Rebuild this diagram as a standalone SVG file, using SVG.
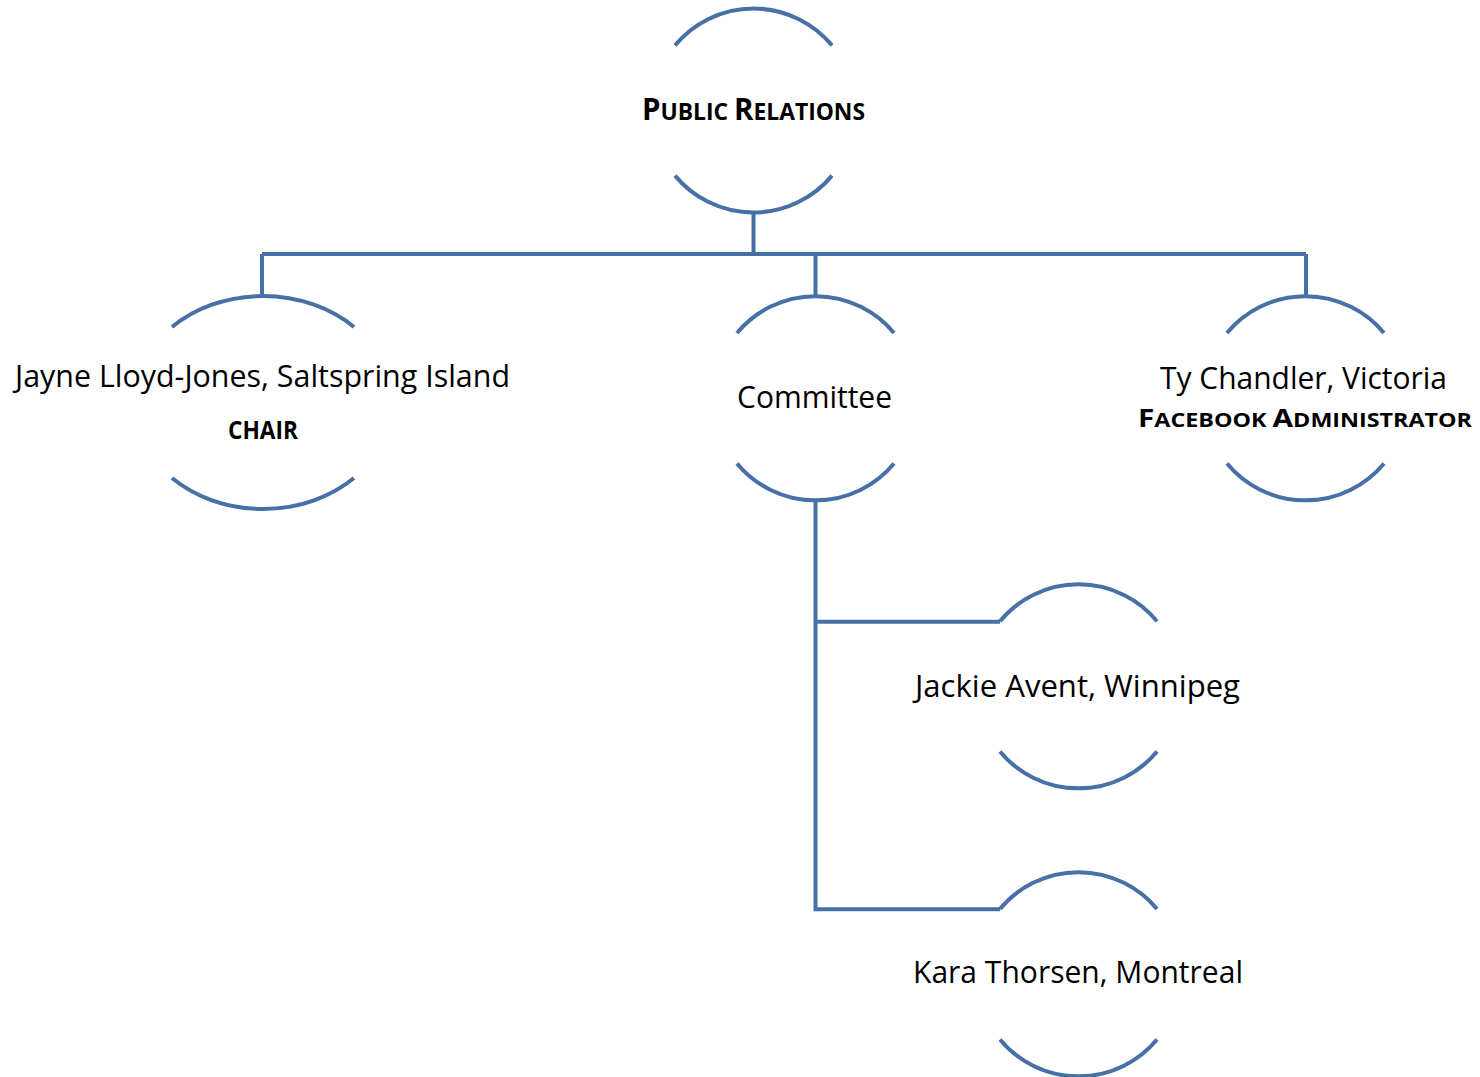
<svg xmlns="http://www.w3.org/2000/svg" width="1480" height="1077" viewBox="0 0 1480 1077">
<style>
.arc{fill:none;stroke:#4770a6;stroke-width:4;stroke-linecap:butt}
.ln{fill:none;stroke:#4770a6;stroke-width:4;stroke-linejoin:miter}
.t{font-family:"Open Sans","Liberation Sans",sans-serif;fill:#000;text-anchor:middle}
.r{font-size:31px}
.b{font-weight:bold}
</style>
<rect width="1480" height="1077" fill="#fff"/>
<g id="connectors">
<path class="ln" d="M753.5,212 V254 M262,254 H1306 M262,254 V297 M815.5,254 V297 M1306,254 V297"/>
<path class="ln" d="M815.5,500 V909.3 H1000 M815.5,621.7 H1000"/>
</g>
<g id="node-public-relations">
<path class="arc" d="M675,45.4 A102,102 0 0 1 832,45.4"/>
<path class="arc" d="M675,175.6 A102,102 0 0 0 832,175.6"/>
<text class="t b" x="753.5" y="120" textLength="223" lengthAdjust="spacingAndGlyphs"><tspan font-size="31">P</tspan><tspan font-size="24">UBLIC </tspan><tspan font-size="31">R</tspan><tspan font-size="24">ELATIONS</tspan></text>
</g>
<g id="node-jayne">
<path class="arc" d="M172,327 A129,106.5 0 0 1 354,327"/>
<path class="arc" d="M172,478 A129,106.5 0 0 0 354,478"/>
<text class="t r" x="262.5" y="387" textLength="495" lengthAdjust="spacingAndGlyphs">Jayne Lloyd-Jones, Saltspring Island</text>
<text class="t b" x="263" y="439" font-size="24.5" textLength="70" lengthAdjust="spacingAndGlyphs">CHAIR</text>
</g>
<g id="node-committee">
<path class="arc" d="M737,333 A102,102 0 0 1 894,333"/>
<path class="arc" d="M737,463.5 A102,102 0 0 0 894,463.5"/>
<text class="t r" x="814.5" y="408" textLength="155" lengthAdjust="spacingAndGlyphs">Committee</text>
</g>
<g id="node-ty">
<path class="arc" d="M1227,333 A102,102 0 0 1 1384,333"/>
<path class="arc" d="M1227,463.5 A102,102 0 0 0 1384,463.5"/>
<text class="t r" x="1303.5" y="389" textLength="287" lengthAdjust="spacingAndGlyphs">Ty Chandler, Victoria</text>
<text class="t b" x="1305" y="427" textLength="334" lengthAdjust="spacingAndGlyphs"><tspan font-size="25.5">F</tspan><tspan font-size="20">ACEBOOK </tspan><tspan font-size="25.5">A</tspan><tspan font-size="20">DMINISTRATOR</tspan></text>
</g>
<g id="node-jackie">
<path class="arc" d="M1000,621.2 A102,102 0 0 1 1157,621.2"/>
<path class="arc" d="M1000,751.5 A102,102 0 0 0 1157,751.5"/>
<text class="t r" x="1077.5" y="697" textLength="325" lengthAdjust="spacingAndGlyphs">Jackie Avent, Winnipeg</text>
</g>
<g id="node-kara">
<path class="arc" d="M1000,909 A102,102 0 0 1 1157,909"/>
<path class="arc" d="M1000,1039.5 A102,102 0 0 0 1157,1039.5"/>
<text class="t r" x="1078" y="983" textLength="330" lengthAdjust="spacingAndGlyphs">Kara Thorsen, Montreal</text>
</g>
</svg>
